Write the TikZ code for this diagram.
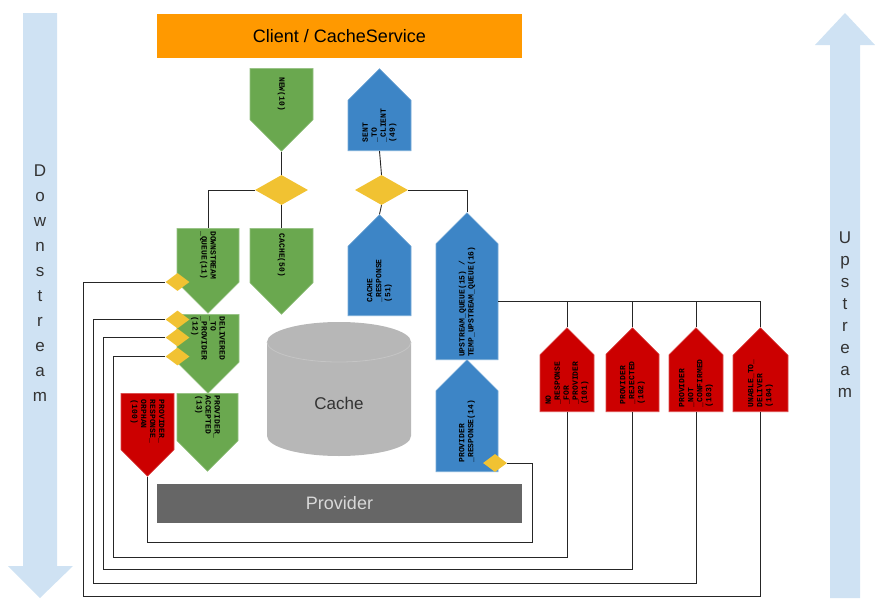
\documentclass[tikz,border=0pt]{standalone}
\usepackage{fontspec}
\setmainfont{Liberation Sans}
\newfontfamily\statemono{Liberation Mono}
\usetikzlibrary{shapes.symbols,shapes.geometric}

\definecolor{stategreen}{HTML}{6AA84F}
\definecolor{stateblue}{HTML}{3D85C6}
\definecolor{statered}{HTML}{CC0000}
\definecolor{juncyellow}{HTML}{F1C232}
\definecolor{clientorange}{HTML}{FF9900}
\definecolor{sideblue}{HTML}{CFE2F3}
\definecolor{cachegray}{HTML}{B7B7B7}
\definecolor{providergray}{HTML}{666666}

\begin{document}
\begin{tikzpicture}
  [
    x = 1pt, y = -1pt,
    state/.style = {signal, signal to=east, signal from=nowhere, signal pointer angle=90,
                    inner sep=1pt, align=left, font=\statemono\bfseries\fontsize{8}{9}\selectfont},
    down/.style = {state, rotate=-90, anchor=west},
    up/.style = {state, rotate=90, anchor=west},
    gstate/.style = {fill=stategreen, draw=stategreen!70!white, line width=0.6pt},
    bstate/.style = {fill=stateblue, draw=stateblue!70!white, line width=0.6pt},
    rstate/.style = {fill=statered, draw=statered!70!white, line width=0.6pt},
    junction/.style = {diamond, fill=juncyellow, inner sep=0pt, minimum width=53, minimum height=30},
    smalljunction/.style = {diamond, fill=juncyellow, inner sep=0pt, minimum width=24, minimum height=18},
    sidelabel/.style = {align=center, font=\fontsize{17}{25}\selectfont, text=black!80},
    flow/.style = {draw=black!85, line width=0.9pt},
  ]
  \useasboundingbox (0,0) rectangle (887,616);

  \fill[sideblue] (23,13) -- (57,13) -- (57,566) -- (73,566) -- (40,598) -- (8,566) -- (23,566) -- cycle;
  \fill[sideblue] (845,13) -- (875,45) -- (860,45) -- (860,598) -- (830,598) -- (830,45) -- (815,45) -- cycle;
  \node[sidelabel] (downlabel) at (40,283) {D\\o\\w\\n\\s\\t\\r\\e\\a\\m};
  \node[sidelabel, font=\fontsize{17}{22}\selectfont] (uplabel) at (845,315) {U\\p\\s\\t\\r\\e\\a\\m};

  \node[fill=clientorange, minimum width=365, minimum height=44, font=\fontsize{18}{20}\selectfont] (client) at (339.5,36) {Client / CacheService};

  \fill[cachegray] (267,342) arc[start angle=180, end angle=0, x radius=72pt, y radius=20pt]
    -- (411,436) arc[start angle=0, end angle=-180, x radius=72pt, y radius=20pt] -- cycle;
  \draw[cachegray!80!white, line width=0.8pt] (267,342) arc[start angle=180, end angle=360, x radius=72pt, y radius=20pt];
  \node[font=\fontsize{17}{20}\selectfont, text=black!80] (cache) at (339,403) {Cache};

  \node[fill=providergray, text=black!15, minimum width=365, minimum height=39, font=\fontsize{18}{20}\selectfont] (provider) at (339.5,503.5) {Provider};

  \node[down, gstate, minimum width=83, minimum height=63] (new) at (281.5,68) {NEW(10)};
  \node[down, gstate, minimum width=85, minimum height=62] (dsq) at (208,228) {DOWNSTREAM\\\_QUEUE(11)};
  \node[down, gstate, minimum width=86, minimum height=63] (cache50) at (281.5,228) {CACHE(50)};
  \node[down, gstate, minimum width=79, minimum height=62] (deliv) at (208,314) {DELIVERED\\\_TO\\\_PROVIDER\\(12)};
  \node[down, gstate, minimum width=78, minimum height=61] (accepted) at (207.5,393) {PROVIDER\_\\ACCEPTED\\(13)};
  \node[down, rstate, minimum width=83, minimum height=53] (orphan) at (147.5,393) {PROVIDER\_\\RESPONSE\_\\ORPHAN\\(100)};

  \node[up, bstate, minimum width=82, minimum height=63] (sent) at (379.5,151) {SENT\\\_TO\\\_CLIENT\\(49)};
  \node[up, bstate, minimum width=101, minimum height=63] (cresp) at (379.5,316) {CACHE\\\_RESPONSE\\(51)};
  \node[up, bstate, minimum width=147, minimum height=62] (upq) at (467,360) {UPSTREAM\_QUEUE(15) /\\TEMP\_UPSTREAM\_QUEUE(16)};
  \node[up, bstate, minimum width=112, minimum height=62] (presp) at (467,472) {PROVIDER\\\_RESPONSE(14)};

  \node[up, rstate, minimum width=84, minimum height=54] (r101) at (567,412) {NO\\\_RESPONSE\\\_FOR\\\_PROVIDER\\(101)};
  \node[up, rstate, minimum width=84, minimum height=53] (r102) at (632.5,412) {PROVIDER\\\_REJECTED\\(102)};
  \node[up, rstate, minimum width=84, minimum height=54] (r103) at (696,412) {PROVIDER\\\_NOT\\\_CONFIRMED\\(103)};
  \node[up, rstate, minimum width=84, minimum height=55] (r104) at (760.5,412) {UNABLE\_TO\_\\DELIVER\\(104)};

  \node[junction] (d1) at (281.5,190) {};
  \node[junction] (d2) at (381.5,190) {};
  \node[smalljunction] (j1) at (177.5,282) {};
  \node[smalljunction] (j2) at (177.5,319.5) {};
  \node[smalljunction] (j3) at (177.5,337.5) {};
  \node[smalljunction] (j4) at (177.5,356.5) {};
  \node[smalljunction] (j5) at (495,463) {};

  \coordinate (loop0) at (532,542);
  \coordinate (loop1) at (113,557);
  \coordinate (loop2) at (103,569);
  \coordinate (loop3) at (93,583);
  \coordinate (loop4) at (83,596);

  \draw[flow] (new.east) -- (d1.north);
  \draw[flow] (d1.west) -| (dsq.west);
  \draw[flow] (d1.south) -- (cache50.west);
  \draw[flow] (sent.west) -- (d2.north);
  \draw[flow] (d2.south) -- (cresp.east);
  \draw[flow] (d2.east) -| (upq.east);
  \foreach \r in {r101,r102,r103,r104}
    \draw[flow] (upq.south) -| (\r.east);

  \draw[flow] (j5.east) -| (loop0) -| (orphan.east);
  \draw[flow] (r101.west) |- (loop1) |- (j4.west);
  \draw[flow] (r102.west) |- (loop2) |- (j3.west);
  \draw[flow] (r103.west) |- (loop3) |- (j2.west);
  \draw[flow] (r104.west) |- (loop4) |- (j1.west);
\end{tikzpicture}
\end{document}
